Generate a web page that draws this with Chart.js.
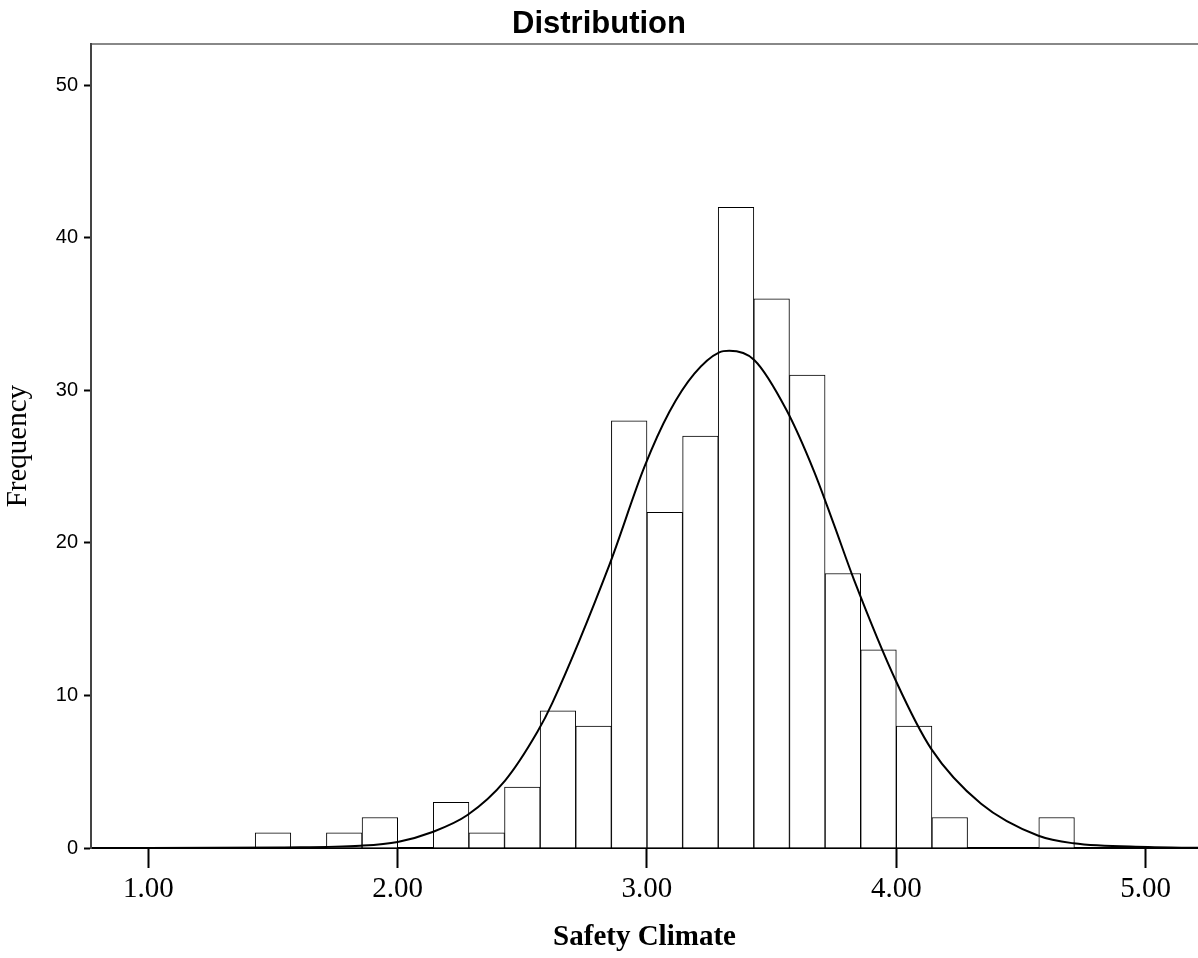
<!DOCTYPE html>
<html>
<head>
<meta charset="utf-8">
<title>Distribution</title>
<script src="https://cdn.jsdelivr.net/npm/chart.js@4.4.1/dist/chart.umd.min.js"></script>
<style>
  body { margin: 0; background: #fff; }
  #chart { display: block; }
</style>
</head>
<body>
<canvas id="chart" width="1198" height="958"></canvas>
<script>
// histogram bins (width 1/7), centre of each non-empty bin and its count
const binCenters = [1.5, 1.7857, 1.9286, 2.2143, 2.3571, 2.5, 2.6429, 2.7857, 2.9286, 3.0714,
  3.2143, 3.3571, 3.5, 3.6429, 3.7857, 3.9286, 4.0714, 4.2143, 4.6429];
const binCounts = [1, 1, 2, 3, 1, 4, 9, 8, 28, 22, 27, 42, 36, 31, 18, 13, 8, 2, 2];

// normal curve, points
const curveX = [0.78, 1.0, 1.53, 1.85, 2.0, 2.14, 2.28, 2.43, 2.56, 2.62, 2.85, 2.99, 3.09, 3.19,
  3.29, 3.33, 3.43, 3.56, 3.67, 3.75, 3.83, 4.0, 4.14, 4.34, 4.57, 4.71, 5.01, 5.21];
const curveY = [0, 0, 0.04, 0.15, 0.4, 1.05, 2.16, 4.4, 7.6, 9.5, 18.6, 25.0, 28.6, 31.1,
  32.5, 32.6, 32.0, 28.7, 24.7, 21.2, 17.6, 10.9, 6.5, 2.9, 0.8, 0.31, 0.06, 0.01];

const xTicks = [1, 2, 3, 4, 5];
const yTicks = [0, 10, 20, 30, 40, 50];

const ctx = document.getElementById("chart");
const chart = new Chart(ctx, {
  type: "bar",
  data: {
    datasets: [
      {
        type: "line",
        label: "Normal",
        data: curveX.map((x, i) => ({ x: x, y: curveY[i] })),
        borderColor: "#000",
        borderWidth: 2,
        pointRadius: 0,
        fill: false,
        cubicInterpolationMode: "monotone",
        order: 0
      },
      {
        label: "Frequency",
        data: binCenters.map((x, i) => ({ x: x, y: binCounts[i] })),
        backgroundColor: "#fff",
        borderColor: "#000",
        borderWidth: 1,
        barPercentage: 1,
        categoryPercentage: 1,
        order: 1
      }
    ]
  },
  options: {
    responsive: false,
    animation: false,
    events: [],
    layout: { padding: 0 },
    plugins: {
      legend: { display: false },
      tooltip: { enabled: false },
      title: {
        display: true,
        text: "Distribution",
        color: "#000",
        font: { family: "Liberation Sans", size: 31, weight: "bold" },
        padding: { top: 6, bottom: 1 }
      }
    },
    scales: {
      x: {
        type: "linear",
        min: 0.77,
        max: 5.21,
        offset: false,
        afterBuildTicks: (s) => { s.ticks = xTicks.map((v) => ({ value: v })); },
        afterFit: (s) => { s.height = 110; },
        ticks: {
          color: "#000",
          font: { family: "Liberation Serif", size: 29 },
          padding: 4,
          maxRotation: 0,
          callback: (v) => Number(v).toFixed(2)
        },
        grid: { offset: false, drawOnChartArea: false, tickLength: 20, tickColor: "#000", tickWidth: 2 },
        border: { color: "#000", width: 2 },
        title: {
          display: true,
          text: "Safety Climate",
          color: "#000",
          font: { family: "Liberation Serif", size: 29, weight: "bold" },
          padding: { top: 0, bottom: 3 }
        }
      },
      xTop: {
        type: "linear",
        axis: "x",
        position: "top",
        min: 0.77,
        max: 5.21,
        offset: false,
        afterFit: (s) => { s.height = 0; },
        ticks: { display: false },
        grid: { display: false, offset: false },
        border: { display: true, color: "#888", width: 2 }
      },
      y: {
        type: "linear",
        min: 0,
        max: 52.7,
        afterBuildTicks: (s) => { s.ticks = yTicks.map((v) => ({ value: v })); },
        afterFit: (s) => { s.width = 91; },
        ticks: {
          color: "#000",
          font: { family: "Liberation Sans", size: 20 },
          padding: 6,
          callback: (v) => String(v)
        },
        grid: { drawOnChartArea: false, tickLength: 7, tickColor: "#000", tickWidth: 2 },
        border: { color: "#444", width: 2 },
        title: {
          display: true,
          text: "Frequency",
          color: "#000",
          font: { family: "Liberation Serif", size: 29 },
          padding: { top: 1, bottom: 0 }
        }
      }
    }
  }
});
</script>
</body>
</html>
